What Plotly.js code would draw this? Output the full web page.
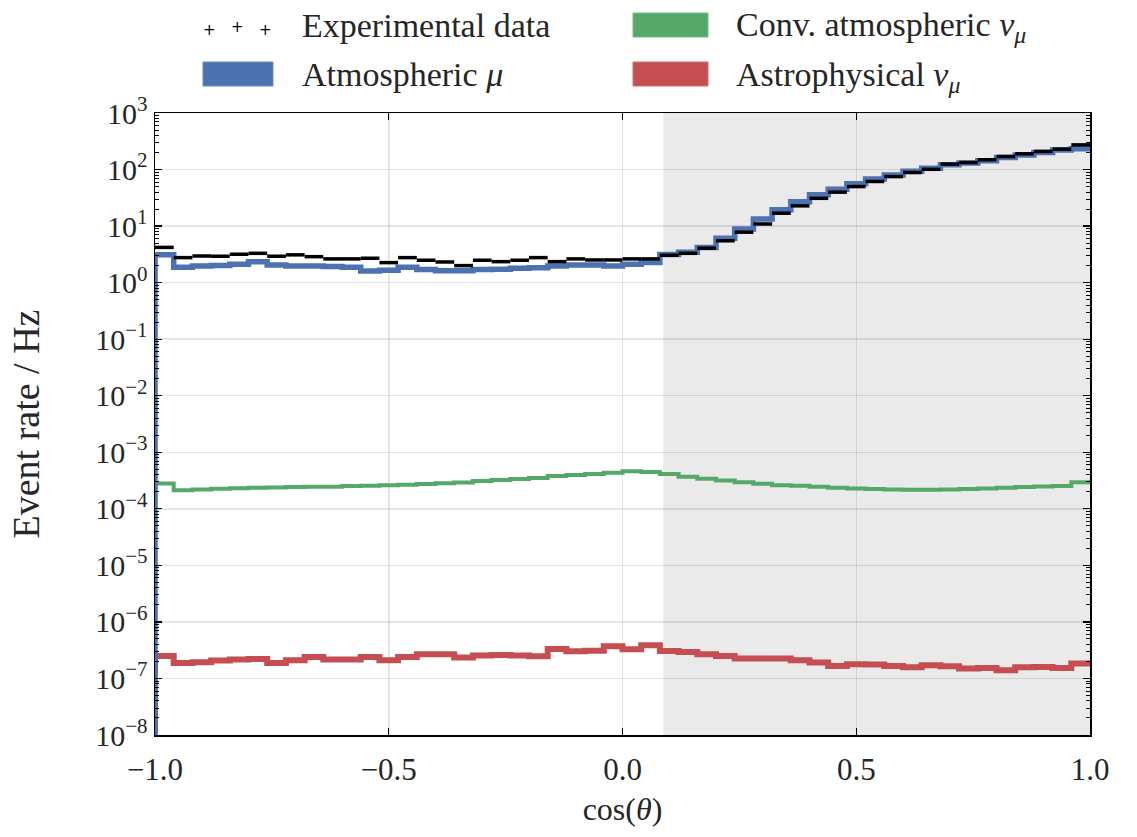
<!DOCTYPE html>
<html>
<head>
<meta charset="utf-8">
<script src="https://cdn.plot.ly/plotly-3.0.1.min.js"></script>
<style>html,body{margin:0;padding:0;background:#fff;}#chart{width:1137px;height:837px;}</style>
</head>
<body>
<div id="chart"></div>
<script>
// Bin edges of cos(theta), 50 bins
const binEdges = [-1.00,-0.96,-0.92,-0.88,-0.84,-0.80,-0.76,-0.72,-0.68,-0.64,-0.60,-0.56,-0.52,-0.48,-0.44,-0.40,-0.36,-0.32,-0.28,-0.24,-0.20,-0.16,-0.12,-0.08,-0.04,0.00,0.04,0.08,0.12,0.16,0.20,0.24,0.28,0.32,0.36,0.40,0.44,0.48,0.52,0.56,0.60,0.64,0.68,0.72,0.76,0.80,0.84,0.88,0.92,0.96,1.00];

// Experimental data (Hz)
const experimentalData = [4.2,2.77,2.96,2.93,3.18,3.3,2.93,3.1,2.88,2.63,2.63,2.7,2.26,2.77,2.49,2.32,2.0,2.49,2.35,2.49,2.77,2.35,2.63,2.52,2.52,2.63,2.63,3.05,3.3,4.07,5.5,7.8,10.9,16.9,22.8,31,39.8,50,61.5,75,88.6,101,125,133,149,170,190,209,230,273];

// Atmospheric mu
const atmosphericMu = [3.1,1.87,1.97,2.0,2.12,2.35,2.06,1.97,1.97,1.92,1.87,1.61,1.66,1.87,1.70,1.63,1.62,1.70,1.72,1.80,1.84,1.97,2.06,2.06,1.97,2.12,2.26,3.15,3.45,4.2,6.1,8.9,13.3,19.4,27,35.7,45,56,68,80,93,105,122,130,143,163,181,200,222,233];

// Conventional atmospheric nu_mu
const convAtmNuMu = [2.8e-4,2.14e-4,2.2e-4,2.26e-4,2.32e-4,2.35e-4,2.39e-4,2.42e-4,2.45e-4,2.45e-4,2.52e-4,2.56e-4,2.6e-4,2.66e-4,2.74e-4,2.82e-4,2.93e-4,3.09e-4,3.23e-4,3.36e-4,3.49e-4,3.8e-4,3.97e-4,4.11e-4,4.34e-4,4.6e-4,4.47e-4,4.11e-4,3.7e-4,3.39e-4,3.18e-4,2.96e-4,2.77e-4,2.62e-4,2.55e-4,2.45e-4,2.35e-4,2.29e-4,2.23e-4,2.2e-4,2.17e-4,2.17e-4,2.2e-4,2.23e-4,2.29e-4,2.35e-4,2.42e-4,2.48e-4,2.52e-4,2.96e-4];

// Astrophysical nu_mu
const astroNuMu = [2.5e-7,1.88e-7,1.94e-7,2.07e-7,2.16e-7,2.21e-7,1.88e-7,2.1e-7,2.4e-7,2.16e-7,2.16e-7,2.4e-7,2.1e-7,2.4e-7,2.68e-7,2.68e-7,2.34e-7,2.54e-7,2.6e-7,2.54e-7,2.47e-7,3.33e-7,3.03e-7,3.08e-7,3.7e-7,3.3e-7,3.87e-7,3.07e-7,2.95e-7,2.68e-7,2.5e-7,2.25e-7,2.25e-7,2.25e-7,2.1e-7,1.91e-7,1.66e-7,1.78e-7,1.76e-7,1.66e-7,1.58e-7,1.72e-7,1.65e-7,1.5e-7,1.53e-7,1.4e-7,1.58e-7,1.6e-7,1.53e-7,1.84e-7];

// Shaded region start: cos(85 deg)
const shadedStart = 0.0872;

const yExponents = [-8,-7,-6,-5,-4,-3,-2,-1,0,1,2,3];
const xTicks = [-1.0,-0.5,0.0,0.5,1.0];

const FONT = 'Liberation Serif, DejaVu Serif, serif';
const TXT = '#262626';
const FLOOR = 1e-12;

function stepTrace(vals, color, width, name) {
  const x = [binEdges[0]], y = [FLOOR];
  for (let i = 0; i < vals.length; i++) { x.push(binEdges[i]); y.push(vals[i]); }
  x.push(binEdges[vals.length]); y.push(vals[vals.length-1]);
  return {x, y, type:'scatter', mode:'lines', name, showlegend:false,
    line:{color, width, shape:'hv'}, hoverinfo:'skip'};
}

function dataTrace(vals) {
  const x = [], y = [];
  for (let i = 0; i < vals.length; i++) {
    x.push(binEdges[i], binEdges[i+1], null);
    y.push(vals[i], vals[i], null);
  }
  return {x, y, type:'scatter', mode:'lines', name:'Experimental data', showlegend:false,
    line:{color:'#000', width:3.5}, connectgaps:false};
}

const traces = [
  stepTrace(astroNuMu, '#C44E52', 6, 'Astrophysical ν_μ'),
  stepTrace(convAtmNuMu, '#55A868', 4, 'Conv. atmospheric ν_μ'),
  stepTrace(atmosphericMu, '#4C72B0', 5.5, 'Atmospheric μ'),
  dataTrace(experimentalData)
];

const W = 1137, H = 837, L = 155, R = 1090, T = 113, B = 735;
const px = v => (v - L) / (R - L);
const py = v => (B - v) / (B - T);

const legendFont = {family: FONT, size: 34, color: TXT};
const plusFont = {family: 'DejaVu Sans, sans-serif', size: 15, color: '#000'};

const layout = {
  width: W, height: H,
  margin: {l: L, r: W - R, t: T, b: H - B},
  paper_bgcolor: '#fff', plot_bgcolor: '#fff',
  font: {family: FONT, color: TXT, size: 30},
  showlegend: false,
  xaxis: {
    range: [-1, 1], tickvals: xTicks, tickformat: '.1f',
    showgrid: true, gridcolor: 'rgba(0,0,0,0.1)', gridwidth: 1.5,
    zeroline: false, showline: true, linecolor: '#000', linewidth: 1.5, mirror: 'allticks',
    ticks: 'inside', ticklen: 7, tickcolor: '#000', tickwidth: 1.2,
    ticklabelstandoff: 6,
    tickfont: {family: FONT, size: 31, color: TXT},
    title: {text: 'cos(<i>θ</i>)', font: {family: FONT, size: 32, color: TXT}, standoff: 12}
  },
  yaxis: {
    type: 'log', range: [-8, 3],
    tickvals: yExponents.map(e => Math.pow(10, e)),
    ticktext: yExponents.map(e => '10<sup>' + (e < 0 ? '−' + (-e) : e) + '</sup>'),
    showgrid: true, gridcolor: 'rgba(0,0,0,0.1)', gridwidth: 1.5,
    zeroline: false, showline: true, linecolor: '#000', linewidth: 1.5, mirror: 'allticks',
    ticks: 'inside', ticklen: 7, tickcolor: '#000', tickwidth: 1.2,
    minor: {dtick: 'D1', ticks: 'inside', ticklen: 4, tickcolor: '#000', tickwidth: 1, showgrid: false},
    tickfont: {family: FONT, size: 30, color: TXT},
    title: {text: 'Event rate / Hz', font: {family: FONT, size: 38, color: TXT}, standoff: 44}
  },
  shapes: [
    {type:'rect', xref:'x', yref:'paper', x0: shadedStart, x1: 1, y0: 0, y1: 1,
     fillcolor:'#eaeaea', line:{width:0}, layer:'below'},
    {type:'rect', xref:'paper', yref:'paper', x0:px(203), x1:px(273), y0:py(86), y1:py(62),
     fillcolor:'#4C72B0', line:{width:1, color:'#6d8cc0'}},
    {type:'rect', xref:'paper', yref:'paper', x0:px(633), x1:px(708), y0:py(37), y1:py(13),
     fillcolor:'#55A868', line:{width:1, color:'#77bb88'}},
    {type:'rect', xref:'paper', yref:'paper', x0:px(633), x1:px(708), y0:py(86), y1:py(62),
     fillcolor:'#C44E52', line:{width:1, color:'#d07073'}}
  ],
  annotations: [
    {xref:'paper', yref:'paper', x:px(209), y:py(30), text:'+', showarrow:false,
     xanchor:'center', yanchor:'middle', font:plusFont},
    {xref:'paper', yref:'paper', x:px(237), y:py(27), text:'+', showarrow:false,
     xanchor:'center', yanchor:'middle', font:plusFont},
    {xref:'paper', yref:'paper', x:px(265), y:py(30), text:'+', showarrow:false,
     xanchor:'center', yanchor:'middle', font:plusFont},
    {xref:'paper', yref:'paper', x:px(300), y:py(26), text:'Experimental data', showarrow:false,
     xanchor:'left', yanchor:'middle', font:legendFont},
    {xref:'paper', yref:'paper', x:px(300), y:py(74), text:'Atmospheric <i>μ</i>', showarrow:false,
     xanchor:'left', yanchor:'middle', font:legendFont},
    {xref:'paper', yref:'paper', x:px(734), y:py(27), text:'Conv. atmospheric <i>ν</i><sub><i>μ</i></sub>', showarrow:false,
     xanchor:'left', yanchor:'middle', font:legendFont},
    {xref:'paper', yref:'paper', x:px(734), y:py(77), text:'Astrophysical <i>ν</i><sub><i>μ</i></sub>', showarrow:false,
     xanchor:'left', yanchor:'middle', font:legendFont}
  ]
};

Plotly.newPlot('chart', traces, layout, {displayModeBar: false, staticPlot: true});
</script>
</body>
</html>
